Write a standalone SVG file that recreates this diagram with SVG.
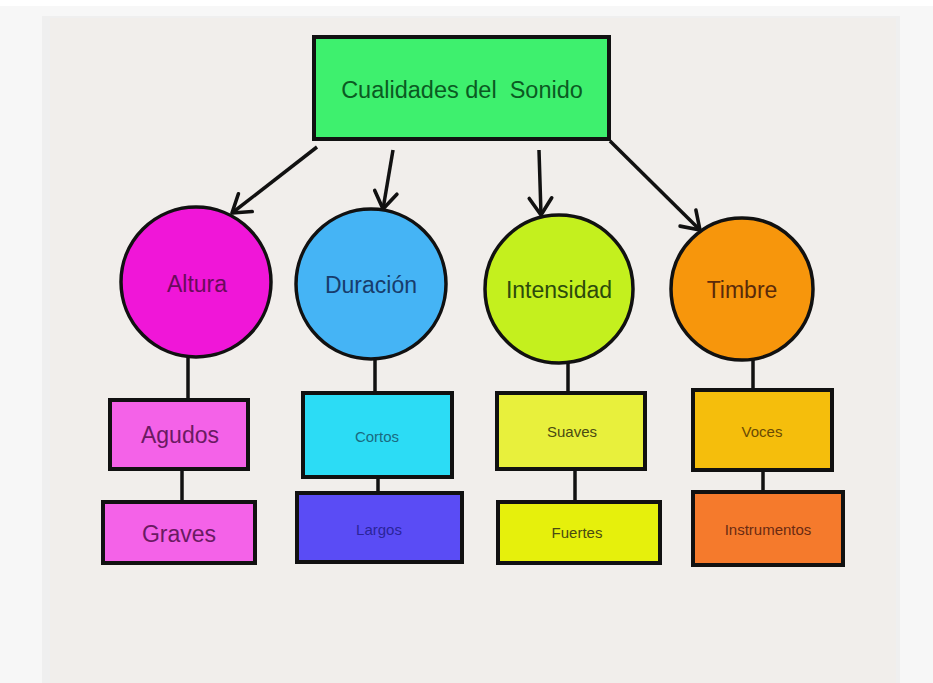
<svg xmlns="http://www.w3.org/2000/svg" width="933" height="683" viewBox="0 0 933 683">
<defs>
<style>
text{font-family:"Liberation Sans",Arial,sans-serif;text-anchor:middle}
.box{stroke:#111;stroke-width:4}
.circ{stroke:#111;stroke-width:3.5}
.big{font-size:23px}
.sm{font-size:15px}
.conn line{stroke:#111;stroke-width:3.5;fill:none}
</style>
<marker id="arr" markerUnits="userSpaceOnUse" markerWidth="36" markerHeight="36" viewBox="-22 -16 28 32" refX="0" refY="0" orient="auto">
<path d="M-15,-10 L0,0 L-15,10" fill="none" stroke="#111" stroke-width="3.2" stroke-linecap="round" stroke-linejoin="round"/>
</marker>
</defs>
<rect x="0" y="0" width="933" height="683" fill="#f7f7f7"/>
<rect x="0" y="0" width="933" height="6" fill="#ffffff"/>
<rect x="42" y="16" width="858" height="667" fill="#efefef"/>
<rect x="50" y="18" width="846" height="665" fill="#f1eeeb"/>

<g class="conn" id="connectors">
<line x1="317" y1="147" x2="232" y2="213" marker-end="url(#arr)"/>
<line x1="393" y1="150" x2="383" y2="209" marker-end="url(#arr)"/>
<line x1="539" y1="150" x2="541" y2="215" marker-end="url(#arr)"/>
<line x1="610" y1="141" x2="700" y2="230" marker-end="url(#arr)"/>
<line x1="188" y1="357" x2="188" y2="400"/>
<line x1="182" y1="469" x2="182" y2="502"/>
<line x1="375" y1="359" x2="375" y2="393"/>
<line x1="378" y1="477" x2="378" y2="493"/>
<line x1="568" y1="363" x2="568" y2="393"/>
<line x1="575" y1="469" x2="575" y2="502"/>
<line x1="753" y1="360" x2="753" y2="390"/>
<line x1="763" y1="470" x2="763" y2="492"/>
</g>

<g id="root">
<rect class="box" x="314" y="37" width="295" height="102" fill="#3ef06e"/>
<text x="462" y="98" font-size="23.5" fill="#0b5a22" xml:space="preserve" style="white-space:pre">Cualidades del  Sonido</text>
</g>

<g id="altura">
<circle class="circ" cx="196" cy="282" r="75" fill="#f016d8"/>
<text class="big" x="197" y="292" fill="#6a0a5c">Altura</text>
</g>
<g id="duracion">
<circle class="circ" cx="371" cy="284" r="75" fill="#45b4f5"/>
<text class="big" x="371" y="293" fill="#173c6c">Duración</text>
</g>
<g id="intensidad">
<circle class="circ" cx="559" cy="289" r="74" fill="#c4f01e"/>
<text class="big" x="559" y="298" fill="#2c4a0c">Intensidad</text>
</g>
<g id="timbre">
<circle class="circ" cx="742" cy="289" r="71" fill="#f7960c"/>
<text class="big" x="742" y="298" fill="#5a2a0a">Timbre</text>
</g>

<g id="agudos">
<rect class="box" x="110" y="400" width="138" height="69" fill="#f462e8"/>
<text class="big" x="180" y="443" fill="#6a1a62">Agudos</text>
</g>
<g id="graves">
<rect class="box" x="103" y="502" width="152" height="61" fill="#f462e8"/>
<text class="big" x="179" y="542" fill="#6a1a62">Graves</text>
</g>
<g id="cortos">
<rect class="box" x="303" y="393" width="149" height="84" fill="#2cdcf5"/>
<text class="sm" x="377" y="442" fill="#1a6a80">Cortos</text>
</g>
<g id="largos">
<rect class="box" x="297" y="493" width="165" height="69" fill="#5a4cf5"/>
<text class="sm" x="379" y="535" fill="#2a249a">Largos</text>
</g>
<g id="suaves">
<rect class="box" x="497" y="393" width="148" height="76" fill="#e8f03c"/>
<text class="sm" x="572" y="437" fill="#4a4a12">Suaves</text>
</g>
<g id="fuertes">
<rect class="box" x="498" y="502" width="162" height="61" fill="#e6f00c"/>
<text class="sm" x="577" y="538" fill="#4a4a12">Fuertes</text>
</g>
<g id="voces">
<rect class="box" x="693" y="390" width="139" height="80" fill="#f5be0c"/>
<text class="sm" x="762" y="437" fill="#6a4a04">Voces</text>
</g>
<g id="instrumentos">
<rect class="box" x="693" y="492" width="150" height="73" fill="#f57a2c"/>
<text class="sm" x="768" y="535" fill="#6a2a12">Instrumentos</text>
</g>
</svg>
